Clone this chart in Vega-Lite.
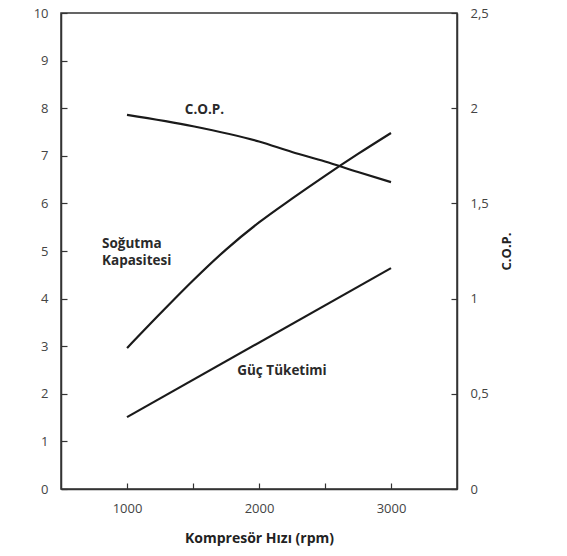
{
  "$schema": "https://vega.github.io/schema/vega-lite/v6.json",
  "width": 396,
  "height": 476,
  "autosize": {"type": "none"},
  "padding": {"left": 61, "top": 13, "right": 110, "bottom": 67},
  "background": "white",
  "config": {
    "font": "Open Sans",
    "view": {"stroke": "#333333", "strokeWidth": 1.5},
    "axis": {
      "domainColor": "#333333",
      "domainWidth": 1.5,
      "tickColor": "#333333",
      "tickWidth": 1.2,
      "tickSize": -6,
      "labelColor": "#444444",
      "labelFont": "Open Sans",
      "labelFontSize": 13,
      "titleFont": "Open Sans",
      "titleColor": "#222222",
      "titleFontWeight": "bold",
      "titleFontSize": 14,
      "grid": false
    }
  },
  "datasets": {
    "lines": [
      {"rpm": 1000, "value": 2.96, "series": "Soğutma Kapasitesi"},
      {"rpm": 1250, "value": 3.68, "series": "Soğutma Kapasitesi"},
      {"rpm": 1500, "value": 4.38, "series": "Soğutma Kapasitesi"},
      {"rpm": 1750, "value": 5.03, "series": "Soğutma Kapasitesi"},
      {"rpm": 2000, "value": 5.6, "series": "Soğutma Kapasitesi"},
      {"rpm": 2250, "value": 6.1, "series": "Soğutma Kapasitesi"},
      {"rpm": 2500, "value": 6.58, "series": "Soğutma Kapasitesi"},
      {"rpm": 2750, "value": 7.04, "series": "Soğutma Kapasitesi"},
      {"rpm": 3000, "value": 7.48, "series": "Soğutma Kapasitesi"},
      {"rpm": 1000, "value": 1.51, "series": "Güç Tüketimi"},
      {"rpm": 3000, "value": 4.64, "series": "Güç Tüketimi"}
    ],
    "cop": [
      {"rpm": 1000, "cop": 1.965},
      {"rpm": 1500, "cop": 1.905},
      {"rpm": 2000, "cop": 1.825},
      {"rpm": 2250, "cop": 1.77},
      {"rpm": 2500, "cop": 1.72},
      {"rpm": 2750, "cop": 1.665},
      {"rpm": 3000, "cop": 1.612}
    ],
    "labels": [
      {"rpm": 1587, "value": 7.96, "text": "C.O.P.", "align": "center"},
      {"rpm": 811, "value": 5.15, "text": "Soğutma", "align": "left"},
      {"rpm": 811, "value": 4.79, "text": "Kapasitesi", "align": "left"},
      {"rpm": 2174, "value": 2.48, "text": "Güç Tüketimi", "align": "center"}
    ]
  },
  "layer": [
    {
      "data": {"name": "lines"},
      "mark": {"type": "line", "color": "#1a1a1a", "strokeWidth": 2.2, "interpolate": "monotone"},
      "encoding": {
        "x": {
          "field": "rpm",
          "type": "quantitative",
          "scale": {"domain": [500, 3500], "nice": false, "zero": false},
          "axis": {
            "values": [1000, 1500, 2000, 2500, 3000],
            "format": "d",
            "labelExpr": "datum.value % 1000 === 0 ? datum.label : ''",
            "labelPadding": 19,
            "title": "Kompresör Hızı (rpm)",
            "titlePadding": 16
          }
        },
        "y": {
          "field": "value",
          "type": "quantitative",
          "scale": {"domain": [0, 10], "nice": false},
          "axis": {
            "orient": "left",
            "values": [0, 1, 2, 3, 4, 5, 6, 7, 8, 9, 10],
            "labelPadding": 19,
            "title": null
          }
        },
        "detail": {"field": "series"}
      }
    },
    {
      "data": {"name": "cop"},
      "mark": {"type": "line", "color": "#1a1a1a", "strokeWidth": 2.2, "interpolate": "monotone"},
      "encoding": {
        "x": {"field": "rpm", "type": "quantitative"},
        "y": {
          "field": "cop",
          "type": "quantitative",
          "scale": {"domain": [0, 2.5], "nice": false},
          "axis": {
            "orient": "right",
            "values": [0, 0.5, 1, 1.5, 2, 2.5],
            "labelExpr": "replace(format(datum.value, '~g'), '.', ',')",
            "labelPadding": 19,
            "title": "C.O.P.",
            "titleAngle": -90,
            "titleFontSize": 13,
            "titlePadding": 25
          }
        }
      }
    },
    {
      "data": {"name": "labels"},
      "transform": [{"filter": "datum.align === 'center'"}],
      "mark": {"type": "text", "fontWeight": "bold", "fontSize": 13.5, "color": "#2a2a2a", "baseline": "middle", "align": "center", "font": "Open Sans"},
      "encoding": {
        "x": {"field": "rpm", "type": "quantitative"},
        "y": {
          "field": "value",
          "type": "quantitative",
          "scale": {"domain": [0, 10], "nice": false},
          "axis": null
        },
        "text": {"field": "text"}
      }
    },
    {
      "data": {"name": "labels"},
      "transform": [{"filter": "datum.align === 'left'"}],
      "mark": {"type": "text", "fontWeight": "bold", "fontSize": 13.5, "color": "#2a2a2a", "baseline": "middle", "align": "left", "font": "Open Sans"},
      "encoding": {
        "x": {"field": "rpm", "type": "quantitative"},
        "y": {
          "field": "value",
          "type": "quantitative",
          "scale": {"domain": [0, 10], "nice": false},
          "axis": null
        },
        "text": {"field": "text"}
      }
    }
  ],
  "resolve": {"scale": {"y": "independent"}}
}
